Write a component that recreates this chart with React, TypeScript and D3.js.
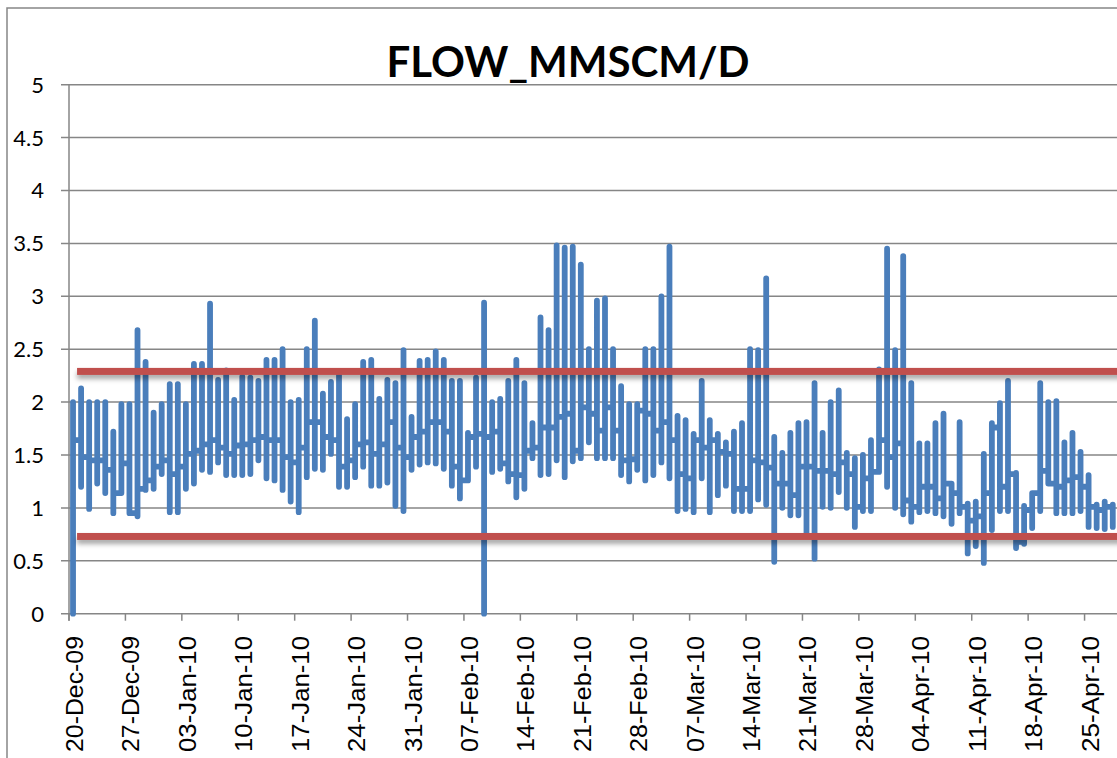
import React from "react";
import * as d3 from "d3";

// daily flow readings, one entry per day from 20-Dec-09
const startDay = new Date(Date.UTC(2009, 11, 20));
const axisEnd = new Date(Date.UTC(2010, 4, 2));

const dayHigh = [
  2.0, 2.13, 2.0, 2.0, 2.0, 1.72, 1.98, 1.98, 2.68, 2.38,
  1.9, 1.98, 2.17, 2.17, 1.98, 2.36, 2.36, 2.93, 2.21, 2.3,
  2.02, 2.24, 2.23, 2.2, 2.4, 2.4, 2.5, 2.0, 2.02, 2.5,
  2.77, 2.08, 2.19, 2.28, 1.84, 1.98, 2.38, 2.4, 2.03, 2.21,
  2.18, 2.49, 1.86, 2.39, 2.4, 2.48, 2.4, 2.2, 2.2, 1.71,
  2.23, 2.94, 2.0, 2.03, 2.2, 2.4, 2.18, 1.8, 2.8, 2.68,
  3.48, 3.46, 3.47, 3.3, 2.5, 2.96, 2.98, 2.5, 2.15, 1.98,
  1.98, 2.5, 2.5, 3.0, 3.47, 1.87, 1.83, 1.7, 2.2, 1.83,
  1.7, 1.62, 1.72, 1.8, 2.5, 2.49, 3.17, 1.67, 1.52, 1.71,
  1.8, 1.81, 2.18, 1.71, 2.0, 2.11, 1.52, 1.47, 1.5, 1.64,
  2.31, 3.45, 2.49, 3.38, 2.18, 1.61, 1.61, 1.8, 1.89, 1.23,
  1.81, 1.04, 1.06, 1.51, 1.8, 1.99, 2.2, 1.33, 1.02, 1.04,
  2.18, 2.0, 2.01, 1.62, 1.71, 1.53, 1.31, 1.03, 1.06, 1.03,
];

const dayLow = [
  0.0, 1.2, 0.99, 1.23, 1.14, 0.95, 1.14, 0.95, 0.92, 1.17,
  1.18, 1.32, 0.96, 0.96, 1.18, 1.23, 1.36, 1.34, 1.43, 1.31,
  1.31, 1.31, 1.32, 1.45, 1.28, 1.26, 1.17, 1.06, 0.96, 1.29,
  1.37, 1.36, 1.51, 1.2, 1.2, 1.29, 1.39, 1.21, 1.21, 1.24,
  1.02, 0.97, 1.36, 1.41, 1.43, 1.42, 1.37, 1.21, 1.09, 1.26,
  1.39, 0.0, 1.34, 1.37, 1.25, 1.1, 1.18, 1.47, 1.31, 1.32,
  1.45, 1.29, 1.44, 1.47, 1.62, 1.47, 1.47, 1.47, 1.31, 1.25,
  1.36, 1.26, 1.31, 1.43, 1.28, 0.97, 0.99, 0.96, 1.28, 0.96,
  1.12, 1.21, 0.97, 0.97, 0.97, 1.08, 1.03, 0.49, 1.0, 0.93,
  0.93, 0.76, 0.52, 1.01, 1.0, 1.15, 1.0, 0.82, 0.97, 0.97,
  1.36, 1.2, 1.0, 0.94, 0.87, 0.96, 0.97, 0.95, 0.92, 0.85,
  0.95, 0.57, 0.64, 0.48, 0.79, 0.97, 0.97, 0.62, 0.66, 0.81,
  0.97, 1.25, 0.95, 0.95, 0.95, 0.97, 0.82, 0.81, 0.8, 0.82,
];

// level where the line leaves one day for the next
const dayHandover = [
  1.64, 1.48, 1.45, 1.45, 1.36, 1.14, 1.42, 0.95, 1.18, 1.26,
  1.39, 1.45, 1.32, 1.39, 1.51, 1.54, 1.6, 1.64, 1.57, 1.51,
  1.59, 1.6, 1.64, 1.67, 1.64, 1.64, 1.48, 1.43, 1.57, 1.81,
  1.81, 1.67, 1.64, 1.39, 1.45, 1.6, 1.62, 1.51, 1.6, 1.81,
  1.57, 1.48, 1.67, 1.72, 1.81, 1.81, 1.72, 1.39, 1.26, 1.67,
  1.7, 1.67, 1.72, 1.42, 1.32, 1.31, 1.54, 1.57, 1.76, 1.76,
  1.86, 1.89, 1.54, 1.95, 1.89, 1.73, 1.95, 1.73, 1.45, 1.46,
  1.92, 1.89, 1.73, 1.81, 1.64, 1.32, 1.28, 1.64, 1.57, 1.64,
  1.53, 1.51, 1.18, 1.18, 1.45, 1.43, 1.38, 1.23, 1.23, 1.12,
  1.39, 1.39, 1.35, 1.35, 1.32, 1.43, 1.32, 1.01, 1.28, 1.34,
  1.64, 1.48, 1.61, 1.07, 1.01, 1.2, 1.2, 1.09, 1.23, 1.14,
  1.01, 0.88, 0.92, 1.14, 1.76, 1.2, 1.32, 0.68, 0.98, 1.14,
  1.35, 1.23, 1.2, 1.26, 1.29, 1.2, 1.01, 0.98, 1.01, 1.0,
];

const limitStart = new Date(Date.UTC(2009, 11, 21));
const limits = [2.29, 0.73];
const yTicks = [0, 0.5, 1, 1.5, 2, 2.5, 3, 3.5, 4, 4.5, 5];

const W = 1117;
const H = 758;
const plotLeft = 69;
const plotTop = 84.7;
const plotBottom = 613.7;
const pxPerDay = 8.06;

export default function App() {
  const x = d3
    .scaleUtc()
    .domain([startDay, axisEnd])
    .range([plotLeft, plotLeft + d3.utcDay.count(startDay, axisEnd) * pxPerDay]);
  const y = d3.scaleLinear().domain([0, 5]).range([plotBottom, plotTop]);

  const days = dayHigh.map((_, i) => d3.utcHour.offset(d3.utcDay.offset(startDay, i), 12));

  // each day: arrive at previous handover, run to high and low, leave at handover
  const pts: [number, number][] = [];
  days.forEach((d, i) => {
    const px = x(d);
    if (i > 0) pts.push([px, y(dayHandover[i - 1])]);
    pts.push([px, y(dayHigh[i])]);
    pts.push([px, y(dayLow[i])]);
    pts.push([px, y(dayHandover[i])]);
  });
  const path = d3.line()(pts) ?? "";

  const weekTicks = d3.utcSunday.range(startDay, axisEnd);
  const fmt = d3.utcFormat("%d-%b-%y");
  const grid = "#868686";
  const redW = 7;

  return (
    <svg
      width={W}
      height={H}
      style={{ position: "absolute", left: 0, top: 0, background: "#fff" }}
    >
      <defs>
        <filter id="shadow" x="-5%" y="-100%" width="110%" height="400%">
          <feDropShadow dx="0" dy="4" stdDeviation="2.5" floodColor="#000" floodOpacity="0.35" />
        </filter>
      </defs>

      {/* chart border */}
      <rect x={7} y={8} width={W + 20} height={H + 20} fill="none" stroke={grid} strokeWidth={1.5} />

      <text
        x={568}
        y={77}
        textAnchor="middle"
        fontFamily="Lato, 'Open Sans', sans-serif"
        fontWeight="bold"
        fontSize={42}
        fill="#000"
      >
        FLOW_MMSCM/D
      </text>

      {/* gridlines + y labels */}
      {yTicks.map((t) => (
        <g key={t}>
          <line x1={plotLeft - 8} x2={W} y1={y(t)} y2={y(t)} stroke={grid} strokeWidth={1.5} />
          <text
            x={44}
            y={y(t)}
            dy="0.36em"
            textAnchor="end"
            fontFamily="Lato, sans-serif"
            fontSize={22}
            fill="#000"
          >
            {t}
          </text>
        </g>
      ))}

      {/* axes */}
      <line x1={plotLeft} x2={plotLeft} y1={plotTop} y2={plotBottom + 7} stroke={grid} strokeWidth={1.5} />
      {weekTicks.map((d) => (
        <g key={+d}>
          <line x1={x(d)} x2={x(d)} y1={plotBottom} y2={plotBottom + 7} stroke={grid} strokeWidth={1.5} />
          <text
            transform={`translate(${x(d) + 14},${636}) rotate(-90)`}
            textAnchor="end"
            fontFamily="'Liberation Sans', Arial, sans-serif"
            fontSize={24}
            textLength={116}
            lengthAdjust="spacingAndGlyphs"
            fill="#000"
          >
            {fmt(d)}
          </text>
        </g>
      ))}

      <path
        d={path}
        fill="none"
        stroke="#4A7EBB"
        strokeWidth={5.8}
        strokeLinejoin="round"
        strokeLinecap="round"
      />

      {/* limit lines, drawn over the flow series */}
      {limits.map((v) => (
        <rect
          key={v}
          x={x(limitStart)}
          width={x(axisEnd) - x(limitStart)}
          y={y(v) - redW / 2}
          height={redW}
          fill="#C0504D"
          filter="url(#shadow)"
        />
      ))}
    </svg>
  );
}
